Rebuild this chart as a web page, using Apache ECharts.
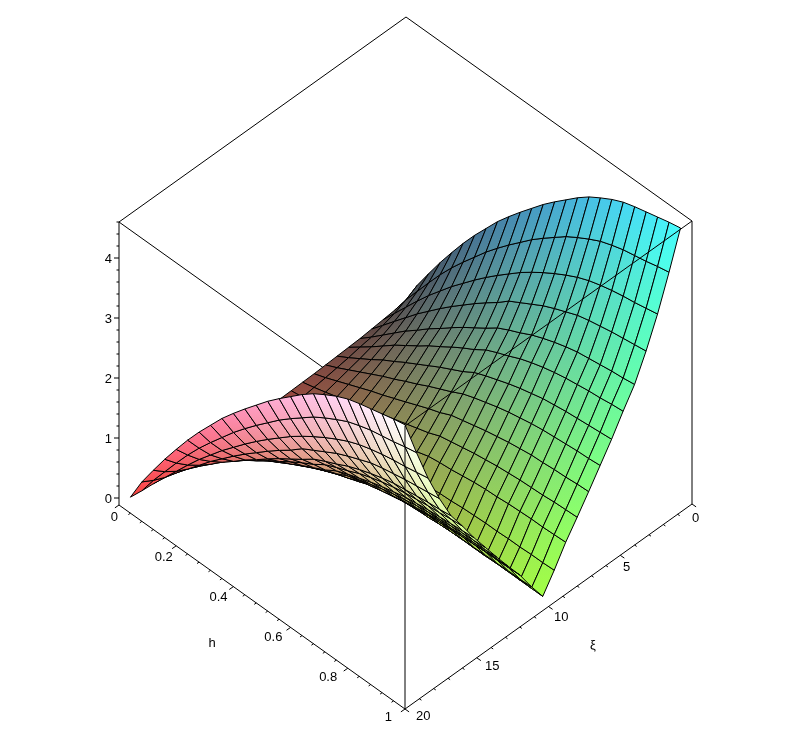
<!DOCTYPE html>
<html><head><meta charset="utf-8">
<style>html,body{margin:0;padding:0;background:#fff}#c{width:811px;height:740px}</style>
<script src="https://cdn.jsdelivr.net/npm/echarts@6/dist/echarts.min.js"></script>
</head><body><div id="c"></div>
<script>
const hGrid=[.04,.08,.12,.16,.2,.24,.28,.32,.36,.4,.44,.48,.52,.56,.6,.64,.68,.72,.76,.8,.84,.88,.92,.96,1];
const xiGrid=[.8,1.6,2.4,3.2,4,4.8,5.6,6.4,7.2,8,8.8,9.6,10.4,11.2,12,12.8,13.6,14.4,15.2,16,16.8,17.6,18.4,19.2,20];
const zRows=[
[.15,.12,.10,.08,.06,.05,.04,.03,.02,.015,.01,.005,.001,.005,.01,.015,.02,.03,.04,.05,.06,.08,.10,.12,.15],
[.54,.43,.34,.28,.22,.19,.15,.12,.09,.065,.04,.02,.005,.02,.04,.065,.09,.12,.15,.19,.22,.28,.34,.43,.54],
[.87,.71,.58,.48,.39,.33,.27,.22,.17,.12,.08,.04,.01,.04,.08,.12,.17,.22,.27,.33,.39,.48,.58,.71,.87],
[1.19,.99,.82,.68,.56,.48,.39,.32,.25,.18,.12,.06,.01,.06,.12,.18,.25,.32,.39,.48,.56,.68,.82,.99,1.19],
[1.49,1.26,1.05,.88,.73,.63,.52,.42,.33,.24,.17,.08,.02,.08,.17,.24,.33,.42,.52,.63,.73,.88,1.05,1.26,1.49],
[1.78,1.51,1.26,1.06,.88,.76,.63,.52,.41,.30,.21,.10,.02,.10,.21,.30,.41,.52,.63,.76,.88,1.06,1.26,1.51,1.78],
[2.05,1.74,1.47,1.24,1.04,.89,.75,.61,.48,.36,.25,.13,.03,.13,.25,.36,.48,.61,.75,.89,1.04,1.24,1.47,1.74,2.05],
[2.30,1.96,1.66,1.41,1.18,1.03,.86,.71,.56,.43,.30,.15,.04,.15,.30,.43,.56,.71,.86,1.03,1.18,1.41,1.66,1.96,2.30],
[2.55,2.18,1.85,1.57,1.33,1.15,.97,.80,.64,.49,.34,.18,.05,.18,.34,.49,.64,.80,.97,1.15,1.33,1.57,1.85,2.18,2.55],
[2.77,2.38,2.03,1.73,1.47,1.28,1.08,.90,.72,.55,.39,.21,.06,.21,.39,.55,.72,.90,1.08,1.28,1.47,1.73,2.03,2.38,2.77],
[2.98,2.57,2.20,1.88,1.60,1.40,1.18,.99,.80,.61,.44,.24,.07,.24,.44,.61,.80,.99,1.18,1.40,1.60,1.88,2.20,2.57,2.98],
[3.18,2.75,2.36,2.02,1.73,1.51,1.28,1.08,.87,.67,.49,.27,.07,.27,.49,.67,.87,1.08,1.28,1.51,1.73,2.02,2.36,2.75,3.18],
[3.38,2.93,2.52,2.18,1.87,1.64,1.40,1.18,.96,.75,.55,.30,.09,.30,.55,.75,.96,1.18,1.40,1.64,1.87,2.18,2.52,2.93,3.38],
[3.56,3.09,2.66,2.29,1.97,1.73,1.48,1.25,1.01,.79,.58,.32,.09,.32,.58,.79,1.01,1.25,1.48,1.73,1.97,2.29,2.66,3.09,3.56],
[3.73,3.24,2.79,2.40,2.06,1.81,1.55,1.31,1.06,.83,.60,.34,.10,.34,.60,.83,1.06,1.31,1.55,1.81,2.06,2.40,2.79,3.24,3.73],
[3.90,3.39,2.91,2.51,2.16,1.90,1.62,1.37,1.11,.87,.63,.35,.10,.35,.63,.87,1.11,1.37,1.62,1.90,2.16,2.51,2.91,3.39,3.90],
[4.05,3.51,3.02,2.60,2.24,1.97,1.68,1.42,1.15,.90,.66,.37,.11,.37,.66,.90,1.15,1.42,1.68,1.97,2.24,2.60,3.02,3.51,4.05],
[4.17,3.62,3.12,2.68,2.31,2.03,1.73,1.46,1.19,.93,.68,.38,.11,.38,.68,.93,1.19,1.46,1.73,2.03,2.31,2.68,3.12,3.62,4.17],
[4.28,3.72,3.20,2.76,2.37,2.08,1.78,1.50,1.22,.95,.69,.39,.11,.39,.69,.95,1.22,1.50,1.78,2.08,2.37,2.76,3.20,3.72,4.28],
[4.37,3.79,3.26,2.81,2.42,2.12,1.81,1.53,1.25,.97,.71,.39,.11,.39,.71,.97,1.25,1.53,1.81,2.12,2.42,2.81,3.26,3.79,4.37],
[4.43,3.85,3.31,2.85,2.45,2.15,1.84,1.55,1.26,.98,.72,.40,.12,.40,.72,.98,1.26,1.55,1.84,2.15,2.45,2.85,3.31,3.85,4.43],
[4.48,3.89,3.35,2.89,2.48,2.18,1.86,1.57,1.28,.99,.73,.40,.12,.40,.73,.99,1.28,1.57,1.86,2.18,2.48,2.89,3.35,3.89,4.48],
[4.53,3.93,3.38,2.92,2.51,2.20,1.88,1.59,1.29,1.01,.73,.41,.12,.41,.73,1.01,1.29,1.59,1.88,2.20,2.51,2.92,3.38,3.93,4.53],
[4.58,3.98,3.42,2.95,2.53,2.23,1.90,1.60,1.31,1.02,.74,.41,.12,.41,.74,1.02,1.31,1.60,1.90,2.23,2.53,2.95,3.42,3.98,4.58],
[4.62,4.02,3.46,2.98,2.56,2.25,1.92,1.62,1.32,1.03,.75,.42,.12,.42,.75,1.03,1.32,1.62,1.92,2.25,2.56,2.98,3.46,4.02,4.62]
];
const hTickLabels=["0","0.2","0.4","0.6","0.8","1"];
const xiTickLabels=["0","5","10","15","20"];
const zTickLabels=["0","1","2","3","4"];
const Z_TOP=4.6, Z_BASE=-0.117, XI_MAX=20;

function project(h,xi,z){const t=1-xi/XI_MAX;return [119+286*h+287*t,498+204*h-205*t-60*z];}
function depth(h,xi,z){const t=1-xi/XI_MAX;return 204*(h-t)+60*z;}
function colorOf(h,xi,z){
  const r=Math.min(1,.25+.75*xi/XI_MAX),g=Math.min(1,.25+.75*h),b=Math.min(1,.25+.75*z/4.62);
  return 'rgb('+Math.round(r*255)+','+Math.round(g*255)+','+Math.round(b*255)+')';
}
const quads=[];
for(let i=0;i<hGrid.length-1;i++)for(let k=0;k<xiGrid.length-1;k++){
  const d=(depth(hGrid[i],xiGrid[k],zRows[i][k])+depth(hGrid[i+1],xiGrid[k],zRows[i+1][k])+depth(hGrid[i+1],xiGrid[k+1],zRows[i+1][k+1])+depth(hGrid[i],xiGrid[k+1],zRows[i][k+1]))/4;
  quads.push([i,k,d]);
}
quads.sort((a,b)=>a[2]-b[2]);

function seg(api,a,b,w){const p=api.coord(a),q=api.coord(b);return {type:'line',silent:true,shape:{x1:p[0],y1:p[1],x2:q[0],y2:q[1]},style:{stroke:'#000',lineWidth:w||1}};}
function txt(api,s,x,y,align,size){const p=api.coord([x,y]);return {type:'text',silent:true,style:{text:s,x:p[0],y:p[1],font:(size||13)+'px "Liberation Sans",Arial,sans-serif',fill:'#000',textAlign:align,textVerticalAlign:'middle'}};}

function renderBack(params,api){
  return {type:'group',children:[seg(api,project(0,20,Z_TOP),project(1,20,Z_TOP))]};
}
function renderQuad(params,api){
  const i=api.value(0),k=api.value(1);
  const c=[[i,k],[i+1,k],[i+1,k+1],[i,k+1]];
  const pts=c.map(q=>api.coord(project(hGrid[q[0]],xiGrid[q[1]],zRows[q[0]][q[1]])));
  const c0=colorOf(hGrid[i],xiGrid[k],zRows[i][k]),c2=colorOf(hGrid[i+1],xiGrid[k+1],zRows[i+1][k+1]);
  const fill=new echarts.graphic.LinearGradient(pts[0][0],pts[0][1],pts[2][0]+.01,pts[2][1]+.01,[{offset:0,color:c0},{offset:1,color:c2}],true);
  return {type:'polygon',silent:true,shape:{points:pts},style:{fill:fill,stroke:'#000',lineWidth:1}};
}
function renderFront(params,api){
  const ch=[];
  const P=project;
  ch.push(seg(api,P(0,20,Z_TOP),P(0,0,Z_TOP)));
  ch.push(seg(api,P(0,0,Z_TOP),P(1,0,Z_TOP)));
  ch.push(seg(api,P(1,0,Z_TOP),P(1,20,Z_TOP)));
  ch.push(seg(api,P(1,20,Z_TOP),P(1,20,Z_BASE)));
  ch.push(seg(api,P(1,0,Z_TOP),P(1,0,Z_BASE)));
  ch.push(seg(api,P(0,20,Z_TOP),P(0,20,Z_BASE)));
  ch.push(seg(api,P(0,20,Z_BASE),P(1,20,Z_BASE)));
  ch.push(seg(api,P(1,0,Z_BASE),P(1,20,Z_BASE)));
  for(let n=0;n<=25;n++){
    const h=n/25,major=n%5===0,a=P(h,20,Z_BASE),l=major?5:2.5;
    ch.push(seg(api,a,[a[0]-.82*l,a[1]+.57*l]));
  }
  hTickLabels.forEach((s,n)=>{const h=n/5;ch.push(txt(api,s,118+274*h,517+200*h,'right'));});
  for(let n=0;n<=20;n++){
    const major=n%5===0,a=P(1,n,Z_BASE),l=major?5:2.5;
    ch.push(seg(api,a,[a[0]+.82*l,a[1]+.57*l]));
  }
  xiTickLabels.forEach((s,n)=>{const xi=n*5;ch.push(txt(api,s,692-13.8*xi,518+9.9*xi,'left'));});
  for(let n=0;n<=23;n++){
    const major=n%5===0,a=P(0,20,n/5),l=major?5:2.5;
    ch.push(seg(api,a,[a[0]-l,a[1]]));
  }
  zTickLabels.forEach((s,n)=>{const a=P(0,20,n);ch.push(txt(api,s,a[0]-7,a[1]+1,'right'));});
  ch.push(txt(api,'h',212,643,'center',13));
  ch.push(txt(api,'ξ',593,645,'center',13));
  return {type:'group',children:ch};
}
const chart=echarts.init(document.getElementById('c'),null,{renderer:'canvas'});
chart.setOption({
  animation:false,backgroundColor:'#fff',
  grid:{left:0,right:0,top:0,bottom:0},
  xAxis:{type:'value',min:0,max:811,show:false},
  yAxis:{type:'value',min:0,max:740,inverse:true,show:false},
  series:[
    {type:'custom',z:1,clip:false,silent:true,renderItem:renderBack,data:[[0]]},
    {type:'custom',z:2,clip:false,silent:true,renderItem:renderQuad,dimensions:['i','k','d'],encode:{x:-1,y:-1},data:quads},
    {type:'custom',z:3,clip:false,silent:true,renderItem:renderFront,data:[[0]]}
  ]
});
</script></body></html>
